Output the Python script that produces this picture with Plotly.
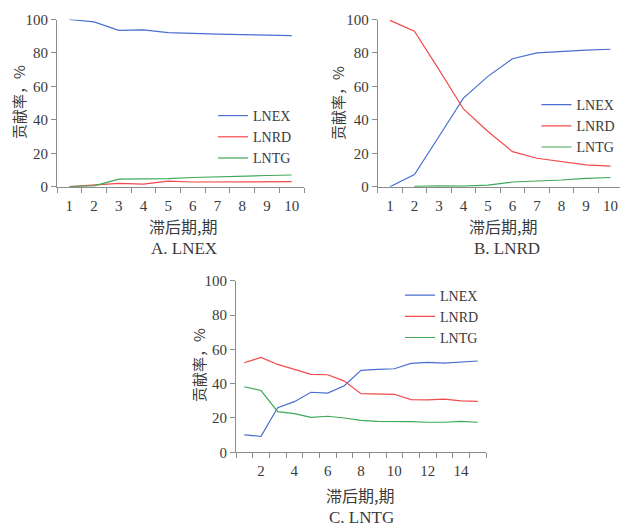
import plotly.graph_objects as go

W, H = 620, 529

# ---------------- data ----------------
lags_10 = [1, 2, 3, 4, 5, 6, 7, 8, 9, 10]
lags_15 = list(range(1, 16))

# Panel A: shock LNEX
a_lnex = [100, 98.6, 93.5, 93.8, 92.2, 91.6, 91.3, 91.0, 90.5, 90.3]
a_lnrd = [0, 0.8, 2.0, 1.5, 3.3, 2.8, 2.8, 2.9, 3.0, 3.0]
a_lntg = [0, 0.5, 4.5, 4.5, 4.8, 5.5, 6.0, 6.2, 6.7, 7.0]

# Panel B: shock LNRD
b_lnex = [0, 7.2, 30, 53, 66, 76.5, 80, 81, 81.7, 82.2]
b_lnrd = [99.5, 93, 70, 46.5, 33, 21, 17, 15, 13, 12.3]
b_lntg = [None, 0.2, 0.5, 0.3, 1.0, 2.8, 3.3, 4.0, 5.0, 5.5]

# Panel C: shock LNTG
c_lnex = [10.1, 9.3, 26, 29.5, 35, 34.5, 38.8, 47.8, 48.3, 48.7, 51.8, 52.4, 52.0, 52.8, 53.2]
c_lnrd = [52.2, 55.3, 51.2, 48.5, 45.4, 45.2, 41.5, 34.2, 34.2, 33.8, 30.7, 30.5, 31.0, 30.0, 29.7]
c_lntg = [38.2, 36.0, 23.7, 22.5, 20.4, 21.0, 20.0, 18.6, 18.0, 18.0, 17.9, 17.5, 17.5, 18.0, 17.5]

series_names = ["LNEX", "LNRD", "LNTG"]
colors = ["#4a6fd0", "#f24a4a", "#3fa859"]
y_ticks = [0, 20, 40, 60, 80, 100]
x_ticks_c = [2, 4, 6, 8, 10, 12, 14]

x_title = "滞后期,期"
y_title = "贡献率，%"
captions = ["A. LNEX", "B. LNRD", "C. LNTG"]

SERIF = "Liberation Serif, Times New Roman, serif"
CJK = "Noto Sans CJK SC"
TXT = "#3a3a3a"
AX = "#8c8c8c"


def px_x(p):
    return p / W


def px_y(p):
    return 1 - p / H


fig = go.Figure()

panels = [
    (lags_10, [a_lnex, a_lnrd, a_lntg], "x", "y", "legend"),
    (lags_10, [b_lnex, b_lnrd, b_lntg], "x2", "y2", "legend2"),
    (lags_15, [c_lnex, c_lnrd, c_lntg], "x3", "y3", "legend3"),
]
for xs, ys_list, xa, ya, lg in panels:
    for name, ys, col in zip(series_names, ys_list, colors):
        fig.add_trace(go.Scatter(
            x=xs, y=ys, name=name, mode="lines",
            line=dict(color=col, width=1.2),
            xaxis=xa, yaxis=ya, legend=lg, connectgaps=False,
        ))

tickfont = dict(family=SERIF, size=15, color=TXT)


def xaxis_cfg(domain, rng, tickvals, anchor):
    return dict(
        domain=domain, range=rng, anchor=anchor, automargin=False,
        tickmode="array", tickvals=tickvals, ticks="",
        showline=True, linecolor=AX, linewidth=1,
        showgrid=False, zeroline=False,
        tickfont=tickfont, ticklabelstandoff=5,
        minor=dict(tickmode="linear", tick0=0.5, dtick=1, ticks="outside",
                   ticklen=5, tickcolor=AX, showgrid=False),
    )


def yaxis_cfg(domain, anchor):
    return dict(
        domain=domain, range=[0, 100], anchor=anchor, automargin=False,
        tickmode="array", tickvals=y_ticks, ticks="outside", ticklen=5,
        tickcolor=AX, showline=True, linecolor=AX, linewidth=1,
        showgrid=False, zeroline=False, tickfont=tickfont,
    )


ydom_ab = [px_y(186.7), px_y(19.5)]
ydom_c = [px_y(452.3), px_y(280.7)]

fig.update_layout(
    width=W, height=H,
    margin=dict(l=0, r=0, t=0, b=0, pad=0, autoexpand=False),
    paper_bgcolor="white", plot_bgcolor="white",
    xaxis=xaxis_cfg([px_x(57), px_x(304)], [0.5, 10.5], lags_10, "y"),
    yaxis=yaxis_cfg(ydom_ab, "x"),
    xaxis2=xaxis_cfg([px_x(377.7), 1.0], [0.5, 10.39], lags_10, "y2"),
    yaxis2=yaxis_cfg(ydom_ab, "x2"),
    xaxis3=xaxis_cfg([px_x(236), px_x(486)], [0.5, 15.5], x_ticks_c, "y3"),
    yaxis3=yaxis_cfg(ydom_c, "x3"),
    showlegend=True,
)

legend_common = dict(
    font=dict(family=SERIF, size=14, color=TXT),
    bgcolor="rgba(0,0,0,0)", borderwidth=0,
    xanchor="left", yanchor="middle", itemwidth=30,
    tracegroupgap=0,
)
fig.update_layout(
    legend=dict(x=px_x(213), y=px_y(137), **legend_common),
    legend2=dict(x=px_x(536.5), y=px_y(126), **legend_common),
    legend3=dict(x=px_x(400), y=px_y(316.5), **legend_common),
)

annotations = []
# y titles
for (xp, yp) in [(18, 102), (338, 103), (198, 365)]:
    annotations.append(dict(
        text=y_title, x=px_x(xp), y=px_y(yp), xref="paper", yref="paper",
        showarrow=False, textangle=-90, xanchor="center", yanchor="middle",
        font=dict(family=CJK, size=15, color=TXT),
    ))
# x titles
for (xp, yp) in [(183, 226), (503, 226), (360, 495)]:
    annotations.append(dict(
        text=x_title, x=px_x(xp), y=px_y(yp), xref="paper", yref="paper",
        showarrow=False, xanchor="center", yanchor="middle",
        font=dict(family=CJK, size=16, color=TXT),
    ))
# captions
for cap, (xp, yp), yanc in zip(captions, [(184, 248), (507, 248), (361, 529)],
                               ["middle", "middle", "bottom"]):
    annotations.append(dict(
        text=cap, x=px_x(xp), y=px_y(yp), xref="paper", yref="paper",
        showarrow=False, xanchor="center", yanchor=yanc,
        font=dict(family=SERIF, size=17, color=TXT),
    ))
fig.update_layout(annotations=annotations)

fig.write_html("out.html")
